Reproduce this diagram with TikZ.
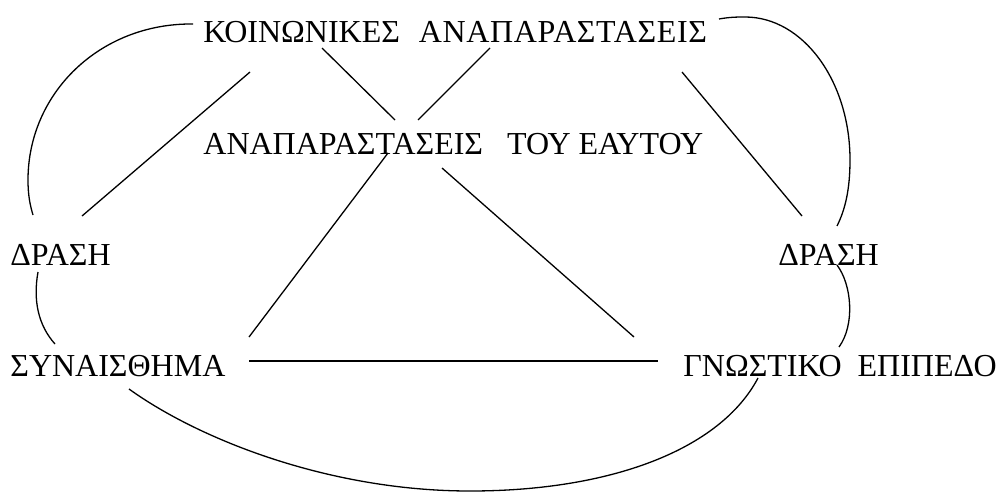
\documentclass[tikz,border=0pt]{standalone}
\usepackage{fontspec}
\setmainfont{Liberation Serif}
\begin{document}
\begin{tikzpicture}[x=0.5pt,y=-0.5pt,
  lbl/.style={inner sep=0pt,anchor=base west,font=\fontsize{16}{19}\selectfont},
  conn/.style={line width=0.65pt,black}]
\useasboundingbox (0,0) rectangle (1000,492);
% texts
\node[lbl] (ka) at (203,43) {ΚΟΙΝΩΝΙΚΕΣ\hspace{9.5pt}\addfontfeature{LetterSpace=2}ΑΝΑΠΑΡΑΣΤΑΣΕΙΣ};
\node[lbl] (ae) at (203,155) {ΑΝΑΠΑΡΑΣΤΑΣΕΙΣ\hspace{12pt}ΤΟΥ ΕΑΥΤΟΥ};
\node[lbl] (dl) at (10,265) {ΔΡΑΣΗ};
\node[lbl] (dr) at (778,265) {ΔΡΑΣΗ};
\node[lbl] (syn) at (10,376) {ΣΥΝΑΙΣΘΗΜΑ};
\node[lbl] (gn) at (683,376) {ΓΝΩΣΤΙΚΟ\ \ ΕΠΙΠΕΔΟ};
% connector end points
\coordinate (kaA) at (193,24);  \coordinate (dlA) at (33,215);
\coordinate (kaB) at (250,72);  \coordinate (dlB) at (82,216);
\coordinate (kaC) at (322,48);  \coordinate (aeC) at (395,120);
\coordinate (kaD) at (490,48);  \coordinate (aeD) at (418,120);
\coordinate (kaE) at (682,72);  \coordinate (drE) at (802,216);
\coordinate (kaF) at (719,19);  \coordinate (drF) at (837,226);
\coordinate (aeG) at (388,153); \coordinate (synG) at (249,337);
\coordinate (aeH) at (442,168); \coordinate (gnH) at (634,337);
\coordinate (synI) at (249,361); \coordinate (gnI) at (658,361);
\coordinate (dlJ) at (38,272);  \coordinate (synJ) at (55,344);
\coordinate (drK) at (837,265); \coordinate (gnK) at (839,347);
\coordinate (synL) at (129,389); \coordinate (gnL) at (758,378);
% straight connectors
\draw[conn] (kaB) -- (dlB);
\draw[conn] (kaC) -- (aeC);
\draw[conn] (kaD) -- (aeD);
\draw[conn] (kaE) -- (drE);
\draw[conn] (aeG) -- (synG);
\draw[conn] (aeH) -- (gnH);
\draw[conn] (synI) -- (gnI);
% curved connectors
\draw[conn] (kaA) .. controls (100,23) and (28,93) .. (28,180)
  .. controls (28,195) and (30,205) .. (dlA);
\draw[conn] (kaF) .. controls (730,17) and (738,17) .. (745,17)
  .. controls (803,17) and (850,81) .. (850,160)
  .. controls (850,190) and (845,210) .. (drF);
\draw[conn] (dlJ) .. controls (33,300) and (38,325) .. (synJ);
\draw[conn] (drK) .. controls (852,285) and (855,325) .. (gnK);
\draw[conn] (synL) .. controls (200,440) and (330,491) .. (470,491)
  .. controls (610,491) and (720,450) .. (gnL);
\end{tikzpicture}
\end{document}
